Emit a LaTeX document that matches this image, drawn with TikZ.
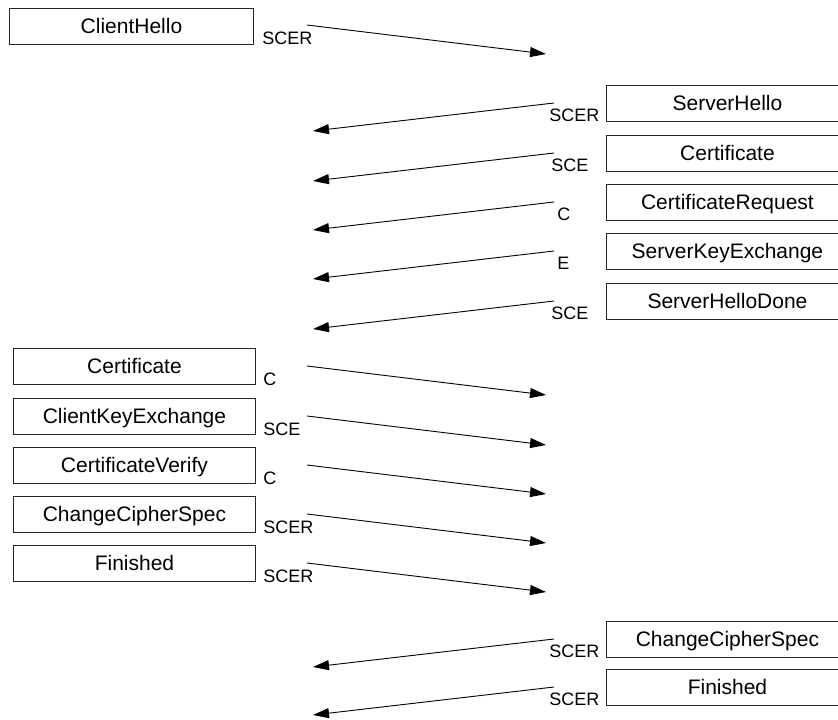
\documentclass[tikz,border=0pt]{standalone}
\usepackage{fontspec}
\setmainfont{Liberation Sans}
\usetikzlibrary{arrows.meta}

\tikzset{
  msgbox/.style={draw=black!85, line width=0.9pt, minimum width=242pt,
    minimum height=36pt, inner sep=0pt, text height=15pt, text depth=0pt,
    anchor=north west, font=\fontsize{21}{24}\selectfont},
  flag/.style={inner sep=0pt, anchor=base west, font=\fontsize{18}{21}\selectfont},
}

\begin{document}
\begin{tikzpicture}[x=1pt,y=-1pt,line width=0.9pt,>={Triangle[length=16pt,width=10pt]}]
  \useasboundingbox (0,0) rectangle (838,720);

  \node[msgbox,minimum width=244pt] (chello) at (9,8) {ClientHello};
  \node[flag] (chelloF) at (262,44) {SCER};
  \coordinate (chelloA) at (307,25);
  \coordinate (chelloB) at (546,54);
  \draw[->] (chelloA) -- (chelloB);

  \node[msgbox] (shello) at (606,85) {ServerHello};
  \node[flag] (shelloF) at (549,121) {SCER};
  \coordinate (shelloA) at (554,103);
  \coordinate (shelloB) at (313,131);
  \draw[->] (shelloA) -- (shelloB);

  \node[msgbox] (scert) at (606,135) {Certificate};
  \node[flag] (scertF) at (551,171) {SCE};
  \coordinate (scertA) at (554,153);
  \coordinate (scertB) at (313,181);
  \draw[->] (scertA) -- (scertB);

  \node[msgbox] (sreq) at (606,184) {CertificateRequest};
  \node[flag] (sreqF) at (557,220) {C};
  \coordinate (sreqA) at (554,202);
  \coordinate (sreqB) at (313,230);
  \draw[->] (sreqA) -- (sreqB);

  \node[msgbox] (skex) at (606,233) {ServerKeyExchange};
  \node[flag] (skexF) at (557,269) {E};
  \coordinate (skexA) at (554,251);
  \coordinate (skexB) at (313,279);
  \draw[->] (skexA) -- (skexB);

  \node[msgbox] (sdone) at (606,283) {ServerHelloDone};
  \node[flag] (sdoneF) at (551,319) {SCE};
  \coordinate (sdoneA) at (554,301);
  \coordinate (sdoneB) at (313,329);
  \draw[->] (sdoneA) -- (sdoneB);

  \node[msgbox] (ccert) at (13,348) {Certificate};
  \node[flag] (ccertF) at (263,385) {C};
  \coordinate (ccertA) at (307,366);
  \coordinate (ccertB) at (546,395);
  \draw[->] (ccertA) -- (ccertB);

  \node[msgbox] (ckex) at (13,398) {ClientKeyExchange};
  \node[flag] (ckexF) at (263,435) {SCE};
  \coordinate (ckexA) at (307,416);
  \coordinate (ckexB) at (546,445);
  \draw[->] (ckexA) -- (ckexB);

  \node[msgbox] (cver) at (13,447) {CertificateVerify};
  \node[flag] (cverF) at (263,484) {C};
  \coordinate (cverA) at (307,465);
  \coordinate (cverB) at (546,494);
  \draw[->] (cverA) -- (cverB);

  \node[msgbox] (cccs) at (13,496) {ChangeCipherSpec};
  \node[flag] (cccsF) at (263,533) {SCER};
  \coordinate (cccsA) at (307,514);
  \coordinate (cccsB) at (546,543);
  \draw[->] (cccsA) -- (cccsB);

  \node[msgbox] (cfin) at (13,545) {Finished};
  \node[flag] (cfinF) at (263,582) {SCER};
  \coordinate (cfinA) at (307,563);
  \coordinate (cfinB) at (546,592);
  \draw[->] (cfinA) -- (cfinB);

  \node[msgbox] (sccs) at (606,621) {ChangeCipherSpec};
  \node[flag] (sccsF) at (549,657) {SCER};
  \coordinate (sccsA) at (554,639);
  \coordinate (sccsB) at (313,667);
  \draw[->] (sccsA) -- (sccsB);

  \node[msgbox] (sfin) at (606,669) {Finished};
  \node[flag] (sfinF) at (549,705) {SCER};
  \coordinate (sfinA) at (554,687);
  \coordinate (sfinB) at (313,715);
  \draw[->] (sfinA) -- (sfinB);
\end{tikzpicture}
\end{document}
